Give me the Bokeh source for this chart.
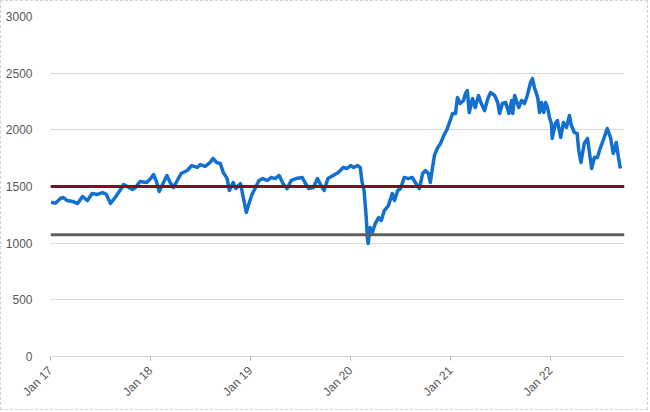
import pandas as pd
from math import pi
from bokeh.plotting import figure
from bokeh.models import Span, DatetimeTickFormatter, FixedTicker, Range1d
from bokeh.embed import file_html
from bokeh.resources import INLINE

dates = [
    "2017-01-03", "2017-01-19", "2017-02-06", "2017-02-17", "2017-03-03", "2017-03-22", "2017-04-10",
    "2017-04-28", "2017-05-16", "2017-06-02", "2017-06-22", "2017-07-10", "2017-07-24", "2017-08-08",
    "2017-08-25", "2017-09-14", "2017-09-25", "2017-10-09", "2017-10-27", "2017-11-07", "2017-11-24",
    "2017-12-18", "2018-01-02", "2018-01-12", "2018-01-23", "2018-02-02", "2018-02-16", "2018-03-02",
    "2018-03-14", "2018-03-26", "2018-04-09", "2018-04-23", "2018-05-15", "2018-06-01", "2018-06-21",
    "2018-07-02", "2018-07-20", "2018-08-07", "2018-08-17", "2018-08-31", "2018-09-13", "2018-09-24",
    "2018-10-08", "2018-10-16", "2018-10-30", "2018-11-09", "2018-11-26", "2018-12-06", "2018-12-17",
    "2018-12-28", "2019-01-08", "2019-01-18", "2019-02-01", "2019-02-15", "2019-03-04", "2019-03-18",
    "2019-04-01", "2019-04-16", "2019-04-30", "2019-05-15", "2019-05-30", "2019-06-17", "2019-07-09",
    "2019-07-19", "2019-08-02", "2019-08-19", "2019-09-03", "2019-09-16", "2019-09-27", "2019-10-11",
    "2019-10-30", "2019-11-18", "2019-12-06", "2019-12-20", "2020-01-02", "2020-01-13", "2020-01-27",
    "2020-02-06", "2020-02-13", "2020-02-20", "2020-02-28", "2020-03-03", "2020-03-06", "2020-03-13",
    "2020-03-20", "2020-04-01", "2020-04-13", "2020-04-23", "2020-05-04", "2020-05-19", "2020-06-02",
    "2020-06-10", "2020-06-22", "2020-07-02", "2020-07-16", "2020-07-31", "2020-08-14", "2020-08-25",
    "2020-09-09", "2020-09-21", "2020-10-01", "2020-10-12", "2020-10-19", "2020-10-27", "2020-11-03",
    "2020-11-13", "2020-11-25", "2020-12-07", "2020-12-17", "2020-12-28", "2021-01-08", "2021-01-19",
    "2021-01-26", "2021-02-05", "2021-02-17", "2021-02-24", "2021-03-03", "2021-03-10", "2021-03-22",
    "2021-04-01", "2021-04-13", "2021-04-23", "2021-05-05", "2021-05-17", "2021-05-27", "2021-06-11",
    "2021-06-22", "2021-06-29", "2021-07-09", "2021-07-21", "2021-08-02", "2021-08-12", "2021-08-16",
    "2021-08-23", "2021-09-07", "2021-09-17", "2021-09-28", "2021-10-08", "2021-10-20", "2021-10-27",
    "2021-11-03", "2021-11-15", "2021-11-22", "2021-11-29", "2021-12-07", "2021-12-14", "2021-12-21",
    "2021-12-28", "2022-01-04", "2022-01-07", "2022-01-19", "2022-01-26", "2022-02-07", "2022-02-17",
    "2022-02-28", "2022-03-11", "2022-03-18", "2022-03-29", "2022-04-08", "2022-04-14", "2022-04-22",
    "2022-05-04", "2022-05-16", "2022-05-23", "2022-05-31", "2022-06-10", "2022-06-21", "2022-07-01",
    "2022-07-12", "2022-07-27", "2022-08-08", "2022-08-18", "2022-08-29", "2022-09-06", "2022-09-13",
]

values = [
    1361, 1353, 1394, 1403, 1376, 1368, 1350,
    1412, 1376, 1438, 1430, 1447, 1430, 1350,
    1403, 1473, 1518, 1500, 1473, 1491, 1544,
    1535, 1570, 1606, 1544, 1456, 1526, 1597,
    1535, 1491, 1553, 1615, 1641, 1685, 1668,
    1694, 1677, 1712, 1747, 1712, 1703, 1624,
    1570, 1465, 1535, 1482, 1526, 1403, 1271,
    1359, 1438, 1482, 1553, 1570, 1553, 1580,
    1570, 1597, 1526, 1482, 1553, 1570, 1580,
    1535, 1482, 1491, 1570, 1509, 1465, 1570,
    1597, 1624, 1668, 1659, 1685, 1668, 1685,
    1668, 1535, 1465, 1226, 1050, 997, 1138,
    1085, 1173, 1226, 1200, 1288, 1332, 1438,
    1376, 1465, 1480, 1580, 1570, 1580, 1535,
    1482, 1615, 1641, 1615, 1535, 1668, 1774,
    1835, 1879, 1950, 1994, 2065, 2144, 2144,
    2285, 2232, 2259, 2320, 2347, 2153, 2276,
    2197, 2303, 2232, 2170, 2276, 2329, 2303,
    2241, 2144, 2232, 2241, 2144, 2259, 2144,
    2303, 2197, 2259, 2232, 2303, 2418, 2453,
    2374, 2285, 2153, 2241, 2153, 2241, 2197,
    2109, 2056, 1924, 2056, 2082, 1932, 2065,
    2021, 2126, 2038, 1976, 1968, 1818, 1712,
    1879, 1924, 1800, 1659, 1756, 1756, 1835,
    1906, 2012, 1932, 1791, 1888, 1756, 1659,
]

ref_levels = [1500, 1075]
ref_colors = ["#7d1025", "#5f5f5f"]

tick_dates = ["2017-01-01", "2018-01-01", "2019-01-01", "2020-01-01", "2021-01-01", "2022-01-01"]
y_ticks = [0, 500, 1000, 1500, 2000, 2500, 3000]

x = pd.to_datetime(dates)
x_start = pd.Timestamp("2017-01-01")
x_end = pd.Timestamp("2022-09-28")

p = figure(width=648, height=410, output_backend="svg", toolbar_location=None,
           x_axis_type="datetime",
           x_range=Range1d(x_start, x_end), y_range=Range1d(0, 3000),
           min_border_left=49, min_border_top=15, min_border_right=25, min_border_bottom=55)
p.styles = {"border": "1px dashed #d0d0d0"}
p.outline_line_color = None
p.background_fill_color = "white"
p.border_fill_color = "white"

p.xgrid.grid_line_color = None
p.ygrid.grid_line_color = "#b4b4b4"
p.ygrid.grid_line_dash = "1 1"
p.ygrid.grid_line_width = 1
p.ygrid.ticker = FixedTicker(ticks=y_ticks)

p.yaxis.ticker = FixedTicker(ticks=y_ticks)
p.yaxis.axis_line_color = None
p.yaxis.major_tick_line_color = None
p.yaxis.minor_tick_line_color = None
p.yaxis.major_label_standoff = 12
p.yaxis.major_label_text_color = "#595959"
p.yaxis.major_label_text_font = "Liberation Sans"
p.yaxis.major_label_text_font_size = "12px"

ms = [pd.Timestamp(d).value / 1e6 for d in tick_dates]
p.xaxis.ticker = FixedTicker(ticks=ms)
p.xaxis.formatter = DatetimeTickFormatter(days="%b %y", months="%b %y", years="%b %y")
p.xaxis.major_label_orientation = pi / 4
p.xaxis.axis_line_color = "#b4b4b4"
p.xaxis.axis_line_dash = "1 1"
p.xaxis.major_tick_line_color = "#b4b4b4"
p.xaxis.major_tick_in = 0
p.xaxis.major_tick_out = 4
p.xaxis.minor_tick_line_color = None
p.xaxis.major_label_standoff = 8
p.xaxis.major_label_text_color = "#595959"
p.xaxis.major_label_text_font = "Liberation Sans"
p.xaxis.major_label_text_font_size = "12px"

for lvl, col in zip(ref_levels, ref_colors):
    p.add_layout(Span(location=lvl, dimension="width", line_color=col, line_width=3))

p.line(x, values, line_color="#1170d0", line_width=3.5, line_join="round")

open("out.html", "w").write(file_html(p, INLINE))
